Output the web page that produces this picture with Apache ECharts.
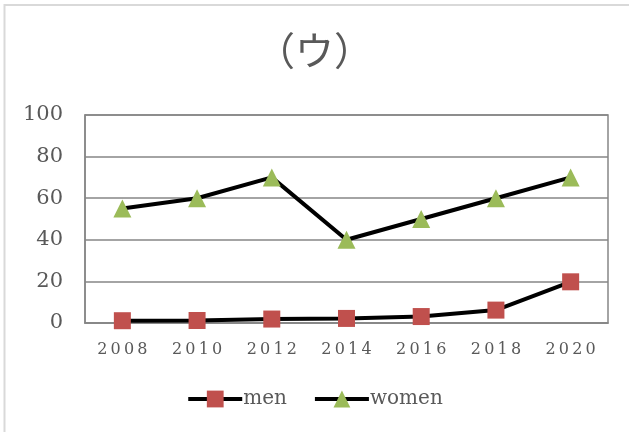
<!DOCTYPE html>
<html>
<head>
<meta charset="utf-8">
<script src="https://cdn.jsdelivr.net/npm/echarts@6/dist/echarts.min.js"></script>
<style>
html,body{margin:0;padding:0;background:#fff;}
#chart{width:629px;height:432px;}
</style>
</head>
<body>
<div id="chart"></div>
<script>
var years = ['2008','2010','2012','2014','2016','2018','2020'];
var men = [1.1, 1.2, 1.9, 2.2, 3.1, 6.2, 19.8];
var women = [55, 60, 70, 40, 50, 60, 70];
var yTicks = [0, 20, 40, 60, 80, 100];

var textColor = '#595959';
var gridColor = '#868686';

var chart = echarts.init(document.getElementById('chart'));
var option = {
	backgroundColor: '#fff',
	animation: false,
	title: {
		text: '（ウ）',
		left: 'center',
		top: 26,
		textStyle: {
			color: textColor,
			fontFamily: 'Noto Sans CJK JP',
			fontWeight: 'normal',
			fontSize: 39
		}
	},
	graphic: [
		{
			type: 'rect',
			shape: {x: 4.5, y: 5, width: 640, height: 440},
			style: {fill: 'none', stroke: '#d9d9d9', lineWidth: 2},
			silent: true
		}
	],
	legend: {
		bottom: 18,
		left: 'center',
		itemWidth: 54,
		itemHeight: 21,
		itemGap: 26,
		data: ['men', 'women'],
		lineStyle: {width: 4, color: '#000'},
		textStyle: {
			color: textColor,
			fontFamily: 'DejaVu Serif',
			fontSize: 20,
			padding: [0, 0, 0, -4]
		}
	},
	grid: {
		left: 85,
		right: 21,
		top: 115,
		bottom: 109,
		show: true,
		borderColor: gridColor,
		borderWidth: 1.5
	},
	xAxis: {
		type: 'category',
		data: years,
		boundaryGap: true,
		axisLine: {lineStyle: {color: gridColor, width: 1.5}},
		axisTick: {show: false},
		axisLabel: {
			color: textColor,
			fontFamily: 'DejaVu Serif',
			fontSize: 16,
			margin: 19,
			formatter: function (v) { return v.split('').join('\u2009'); }
		}
	},
	yAxis: {
		type: 'value',
		min: yTicks[0],
		max: yTicks[yTicks.length - 1],
		interval: 20,
		axisLine: {show: true, lineStyle: {color: gridColor, width: 1.5}},
		axisTick: {show: false},
		splitLine: {lineStyle: {color: gridColor, width: 1.5}},
		axisLabel: {
			color: textColor,
			fontFamily: 'DejaVu Serif',
			fontSize: 21,
			margin: 22
		}
	},
	series: [
		{
			name: 'men',
			type: 'line',
			data: men,
			symbol: 'rect',
			symbolSize: 17,
			lineStyle: {color: '#000', width: 4},
			itemStyle: {color: '#C0504D'},
			z: 3
		},
		{
			name: 'women',
			type: 'line',
			data: women,
			symbol: 'triangle',
			symbolSize: 18,
			lineStyle: {color: '#000', width: 4},
			itemStyle: {color: '#9BBB59'},
			z: 3
		}
	]
};
chart.setOption(option);
</script>
</body>
</html>
